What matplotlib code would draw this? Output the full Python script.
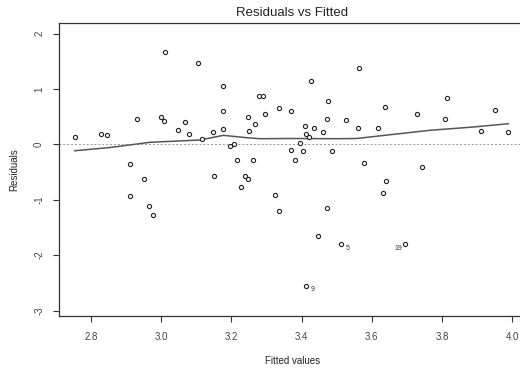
import matplotlib
matplotlib.use("Agg")
import matplotlib.pyplot as plt

# fitted values and residuals
fitted = [
    2.754, 2.828, 2.846, 2.910, 2.910, 2.932, 2.950, 2.964, 2.978, 2.999,
    3.009, 3.012, 3.047, 3.069, 3.078, 3.106, 3.115, 3.148, 3.150, 3.175,
    3.175, 3.175, 3.196, 3.208, 3.215, 3.227, 3.239, 3.248, 3.248, 3.251,
    3.261, 3.267, 3.279, 3.289, 3.297, 3.324, 3.336, 3.336, 3.370, 3.371,
    3.382, 3.395, 3.403, 3.409, 3.413, 3.413, 3.422, 3.428, 3.436, 3.447,
    3.461, 3.473, 3.473, 3.476, 3.486, 3.513, 3.528, 3.560, 3.564, 3.577,
    3.617, 3.631, 3.638, 3.640, 3.695, 3.730, 3.744, 3.809, 3.815, 3.912,
    3.951, 3.988,
]
resid = [
    0.126, 0.186, 0.162, -0.356, -0.933, 0.451, -0.626, -1.108, -1.282, 0.493,
    0.421, 1.666, 0.264, 0.403, 0.186, 1.473, 0.090, 0.227, -0.567, 1.052,
    0.606, 0.276, -0.031, 0.005, -0.278, -0.776, -0.567, -0.626, 0.493, 0.240,
    -0.278, 0.361, 0.877, 0.877, 0.552, -0.915, 0.661, -1.204, -0.103, 0.606,
    -0.278, 0.029, -0.126, 0.336, 0.186, -2.552, 0.126, 1.148, 0.294, -1.650,
    0.222, 0.451, -1.144, 0.782, -0.126, -1.800, 0.433, 0.300, 1.377, -0.338,
    0.300, -0.874, 0.668, -0.668, -1.800, 0.552, -0.415, 0.457, 0.841, 0.245,
    0.625, 0.222,
]

# lowess smooth
smooth_x = [2.754, 2.854, 2.968, 3.111, 3.177, 3.244, 3.281, 3.367, 3.500,
            3.557, 3.652, 3.766, 3.889, 3.989]
smooth_y = [-0.116, -0.058, 0.036, 0.078, 0.162, 0.119, 0.101, 0.105, 0.101,
            0.105, 0.173, 0.253, 0.312, 0.372]

# flagged observations (index into the arrays above) and their labels
flag_idx = [45, 55, 64]
flag_lab = ["9", "5", "19"]

xticks = [2.8, 3.0, 3.2, 3.4, 3.6, 3.8, 4.0]
yticks = [-3, -2, -1, 0, 1, 2]

plt.rcParams["font.family"] = ["Liberation Sans", "DejaVu Sans"]

fig = plt.figure(figsize=(5.2, 3.73), dpi=100)
# axes box runs slightly past the right edge, as in the cropped original
ax = fig.add_axes([0.1129, 0.1528, 0.899, 0.7847])

ax.axhline(0, color="#999999", lw=0.7, linestyle=(0, (2, 2)), zorder=1)
ax.plot(smooth_x, smooth_y, color="#555555", lw=1.1, zorder=2)
ax.plot(fitted, resid, linestyle="none", marker="o", markersize=3.0,
        markerfacecolor="white", markeredgecolor="#222222", mew=0.8, zorder=3)

for i, lab in zip(flag_idx, flag_lab):
    # label goes left of the point only for the right-most flagged one
    on_left = fitted[i] > 3.6
    ax.annotate(lab, (fitted[i], resid[i]),
                xytext=(-2 if on_left else 3, -3), textcoords="offset points",
                ha="right" if on_left else "left", va="center",
                fontsize=5, color="#333333")

ax.set_xlim(2.708, 4.040)
ax.set_ylim(-3.099, 2.184)
ax.set_xticks(xticks)
ax.set_xticklabels([f"{t:.1f}" for t in xticks])
ax.set_yticks(yticks)
ax.set_yticklabels([str(t) for t in yticks], rotation=90, va="center")

ax.tick_params(axis="both", direction="out", length=4.5, width=0.8,
               color="#333333", labelsize=7, labelcolor="#444444")
ax.tick_params(axis="x", pad=7)
ax.tick_params(axis="y", pad=6)
for s in ax.spines.values():
    s.set_color("#333333")
    s.set_linewidth(0.9)

ax.set_title("Residuals vs Fitted", fontsize=9.5, color="#222222", pad=5)
ax.set_xlabel("Fitted values", fontsize=7, color="#222222", labelpad=10)
ax.set_ylabel("Residuals", fontsize=7, color="#222222", labelpad=11)

fig.savefig("out.png", dpi=100)
